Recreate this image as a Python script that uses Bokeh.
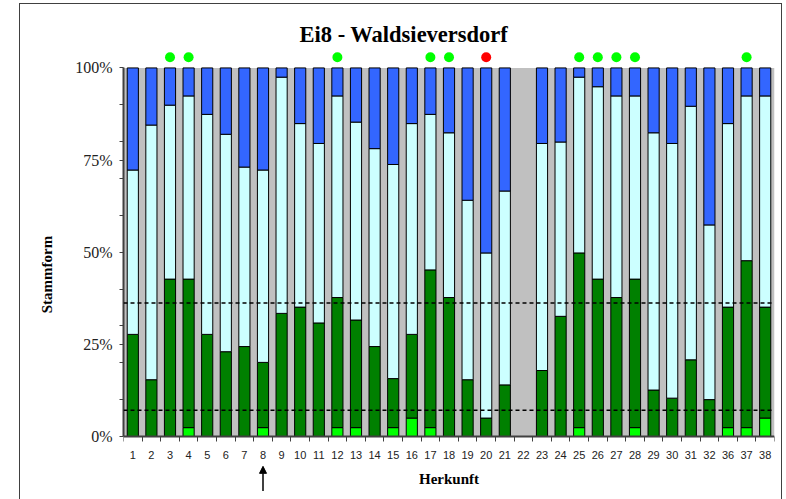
from bokeh.plotting import figure
from bokeh.models import (ColumnDataSource, Range1d, FixedTicker, Span,
                          BoxAnnotation, Arrow, NormalHead)
from bokeh.embed import file_html
from bokeh.resources import INLINE

# ---------------- data ----------------
herkunft = ["1", "2", "3", "4", "5", "6", "7", "8", "9", "10",
            "11", "12", "13", "14", "15", "16", "17", "18", "19", "20",
            "21", "22", "23", "24", "25", "26", "27", "28", "29", "30",
            "31", "32", "36", "37", "38"]

# shares in percent (bottom -> top)
hellgruen = [0, 0, 0, 2.4, 0, 0, 0, 2.4, 0, 0,
             0, 2.4, 2.4, 0, 2.4, 5.0, 2.4, 0, 0, 0,
             0, 0, 0, 0, 2.4, 0, 0, 2.4, 0, 0,
             0, 0, 2.4, 2.4, 5.0]
dunkelgruen = [27.7, 15.4, 42.7, 40.3, 27.7, 23.0, 24.4, 17.7, 33.4, 35.1,
               30.8, 35.3, 29.2, 24.4, 13.3, 22.7, 42.8, 37.7, 15.4, 5.0,
               14.0, 0, 17.9, 32.6, 47.4, 42.7, 37.7, 40.3, 12.6, 10.4,
               20.8, 10.0, 32.7, 45.3, 30.1]
hellblau = [44.6, 69.1, 47.2, 49.7, 59.7, 59.0, 48.7, 52.2, 64.1, 49.8,
            48.7, 54.7, 53.7, 53.7, 58.1, 57.2, 42.2, 44.7, 48.7, 44.8,
            52.6, 0, 61.6, 47.3, 47.7, 52.2, 54.7, 49.7, 69.8, 69.1,
            68.8, 47.4, 49.8, 44.7, 57.3]
blau = [27.7, 15.5, 10.1, 7.6, 12.6, 18.0, 26.9, 27.7, 2.5, 15.1,
        20.5, 7.6, 14.7, 21.9, 26.2, 15.1, 12.6, 17.6, 35.9, 50.2,
        33.4, 0, 20.5, 20.1, 2.5, 5.1, 7.6, 7.6, 17.6, 20.5,
        10.4, 42.6, 15.1, 7.6, 7.6]

ref_oben = 36.2
ref_unten = 7.1

marks_gruen = ["3", "4", "12", "17", "18", "25", "26", "27", "28", "37"]
marks_rot = ["20"]
pfeil_bei = "8"

y_ticks = [0, 25, 50, 75, 100]
y_tick_labels = ["0%", "25%", "50%", "75%", "100%"]
y_minor = [10, 20, 30, 40, 60, 70, 80, 90]

# ---------------- figure ----------------
n = len(herkunft)
xpos = list(range(1, n + 1))
totals = [a + b + c + d for a, b, c, d in zip(hellgruen, dunkelgruen, hellblau, blau)]
outline = ["black" if t > 0 else None for t in totals]
src = ColumnDataSource(dict(x=xpos, lg=hellgruen, dg=dunkelgruen,
                            cy=hellblau, bl=blau, lc=outline))

p = figure(width=761, height=495, output_backend="svg", toolbar_location=None,
           x_range=Range1d(0.5, n + 0.5), y_range=Range1d(-17.1, 105),
           min_border_left=103, min_border_right=7, min_border_top=45,
           min_border_bottom=0, background_fill_color="white",
           border_fill_color="white", outline_line_color=None)
p.margin = (4, 0, 0, 20)
p.styles = {"outline": "1.5px solid #404040"}
p.xgrid.grid_line_color = None
p.ygrid.grid_line_color = None

p.add_layout(BoxAnnotation(bottom=0, top=100, fill_color="#C0C0C0", fill_alpha=1,
                           line_color=None, level="underlay"))

p.vbar_stack(["lg", "dg", "cy", "bl"], x="x", width=0.6,
             fill_color=["#00FF00", "#008000", "#CCFFFF", "#3366FF"],
             line_color="lc", line_width=1, source=src)

for loc in (ref_oben, ref_unten):
    p.add_layout(Span(location=loc, dimension="width", line_color="black",
                      line_width=1.5, line_dash="4 3"))

mark_y = 102.9
gx = [herkunft.index(m) + 1 for m in marks_gruen]
rx = [herkunft.index(m) + 1 for m in marks_rot]
p.scatter(gx, [mark_y] * len(gx), size=10, color="#00FF00", line_color=None)
p.scatter(rx, [mark_y] * len(rx), size=10, color="#FF0000", line_color=None)

# arrow below the axis
ax = herkunft.index(pfeil_bei) + 1
p.add_layout(Arrow(end=NormalHead(size=7, fill_color="black", line_color="black"),
                   x_start=ax, y_start=-14.8, x_end=ax, y_end=-8.1,
                   line_color="black", line_width=1.5))

# axes
yax = p.yaxis[0]
yax.ticker = FixedTicker(ticks=y_ticks, minor_ticks=y_minor)
yax.major_label_overrides = dict(zip(y_ticks, y_tick_labels))
yax.bounds = (0, 100)
yax.axis_label = "Stammform"
yax.axis_label_text_font = "Liberation Serif"
yax.axis_label_text_font_size = "15px"
yax.axis_label_text_font_style = "bold"
yax.axis_label_text_color = "black"
yax.axis_label_standoff = 17
yax.major_label_text_font = "Liberation Serif"
yax.major_label_text_font_size = "16px"
yax.major_label_text_color = "#222222"
yax.major_label_standoff = 7
yax.major_tick_out = 4
yax.major_tick_in = 0
yax.minor_tick_out = 4
yax.minor_tick_in = 0
yax.axis_line_color = "#404040"
yax.axis_line_width = 2
yax.major_tick_line_color = "#404040"
yax.minor_tick_line_color = "#404040"

xax = p.xaxis[0]
xax.fixed_location = 0
xax.ticker = FixedTicker(ticks=xpos, minor_ticks=[i + 0.5 for i in range(0, n + 1)])
xax.major_label_overrides = dict(zip(xpos, herkunft))
xax.axis_label = "Herkunft"
xax.axis_label_text_font = "Liberation Serif"
xax.axis_label_text_font_size = "15px"
xax.axis_label_text_font_style = "bold"
xax.axis_label_text_color = "black"
xax.axis_label_standoff = 8
xax.major_label_text_font = "Liberation Sans"
xax.major_label_text_font_size = "11px"
xax.major_label_text_color = "#222222"
xax.major_label_standoff = 10
xax.major_tick_out = 0
xax.major_tick_in = 0
xax.minor_tick_out = 5
xax.minor_tick_in = 0
xax.axis_line_color = "#404040"
xax.axis_line_width = 2
xax.minor_tick_line_color = "#404040"

p.title.text = "Ei8 - Waldsieversdorf"
p.title.text_font = "Liberation Serif"
p.title.text_font_size = "22.5px"
p.title.text_font_style = "bold"
p.title.text_color = "black"
p.title.align = "left"
p.title.offset = 176
p.title.standoff = 5

open("out.html", "w").write(file_html(p, INLINE))
